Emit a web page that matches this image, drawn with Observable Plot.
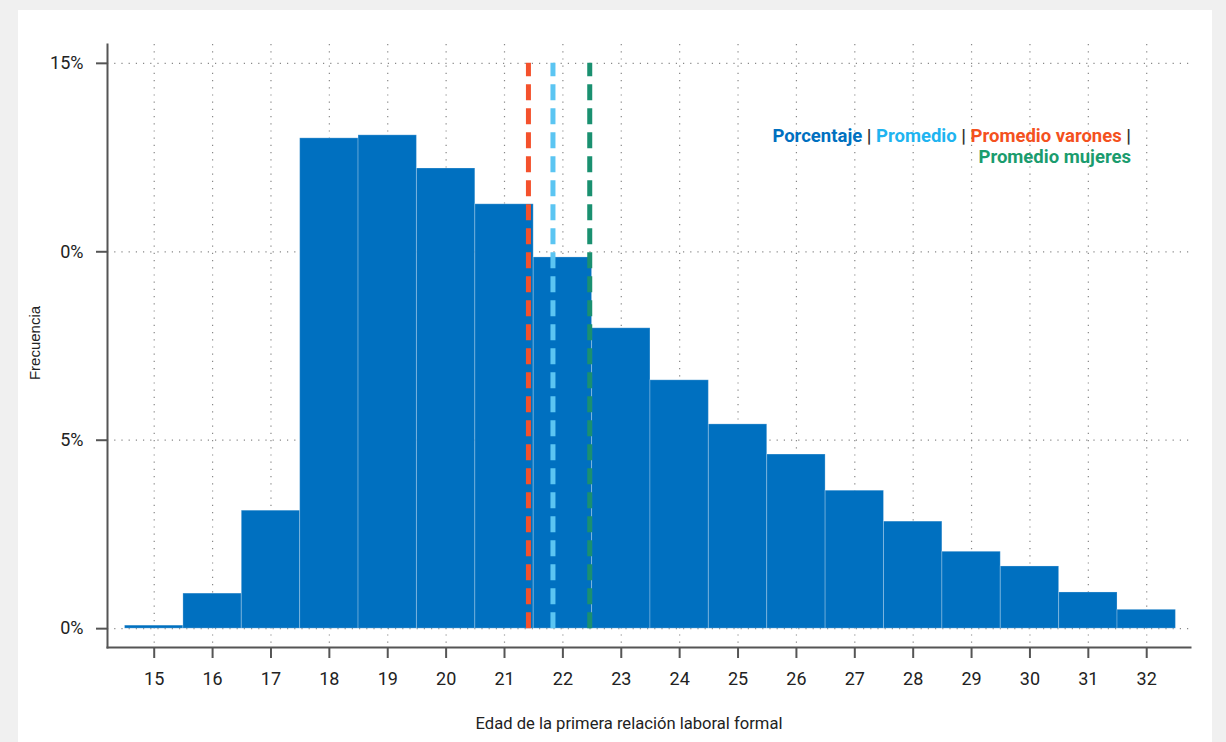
<!DOCTYPE html>
<html>
<head>
<meta charset="utf-8">
<script src="https://cdn.jsdelivr.net/npm/d3@7"></script>
<script src="https://cdn.jsdelivr.net/npm/@observablehq/plot@0.6"></script>
<style>
  html, body { margin: 0; padding: 0; background: #f0f0f0; width: 1226px; height: 742px; overflow: hidden; font-family: Roboto, sans-serif; }
  #panel { position: absolute; left: 18px; top: 10px; width: 1194px; height: 740px; background: #fff; }
  #legend { position: absolute; left: 500px; width: 631px; top: 126px; text-align: right; font-family: Roboto, sans-serif; font-weight: bold; font-size: 18.5px; line-height: 21px; color: #333; }
  g[aria-label="x-axis tick label"] text, g[aria-label="y-axis tick label"] text { font-size: 18px; }
</style>
</head>
<body>
<div id="panel"></div>
<div id="legend">
  <span style="color:#0070c0">Porcentaje</span> | <span style="color:#1fb4f0">Promedio</span> | <span style="color:#f4511e">Promedio varones</span> |<br>
  <span style="color:#1a9c6e">Promedio mujeres</span>
</div>
<script>
const ages = [15,16,17,18,19,20,21,22,23,24,25,26,27,28,29,30,31,32];
const pct = [0.08,0.93,3.13,13.01,13.09,12.21,11.26,9.85,7.97,6.59,5.42,4.62,3.66,2.84,2.04,1.65,0.96,0.50];
const yTicks = [0,5,10,15];
const yTickLabels = ["0%","5%","0%","15%"];
const meanNames = ["Promedio varones","Promedio","Promedio mujeres"];
const meanValues = [21.41,21.83,22.46];
const meanColors = ["#f4512c","#5bc5f2","#1a9070"];
const xTitle = "Edad de la primera relación laboral formal";
const yTitle = "Frecuencia";

const bars = ages.map((a,i)=>({age:a, pct:pct[i]}));
const means = meanNames.map((n,i)=>({name:n, value:meanValues[i], color:meanColors[i]}));

const chart = Plot.plot({
  width: 1194,
  height: 730,
  marginLeft: 89,
  marginRight: 22,
  marginTop: 34,
  marginBottom: 93,
  style: {fontFamily: "Roboto, sans-serif", fontSize: "18px", color: "#222", background: "transparent"},
  x: {domain: [14.2, 32.75]},
  y: {domain: [-0.5, 15.5]},
  marks: [
    Plot.gridX(ages, {stroke: "#888", strokeOpacity: 1, strokeDasharray: "1.2,6", strokeWidth: 1.2}),
    Plot.gridY(yTicks, {stroke: "#888", strokeOpacity: 1, strokeDasharray: "1.2,6", strokeWidth: 1.2}),
    Plot.rectY(bars, {x1: d=>d.age-0.5, x2: d=>d.age+0.5, y1: 0, y2: "pct", fill: "#0070c0", stroke: "#ffffff", strokeOpacity: 0.25, strokeWidth: 1}),
    Plot.ruleX(means, {x: "value", y1: 0, y2: 15, stroke: "color", strokeWidth: 5, strokeDasharray: "16,8"}),
    Plot.axisX(ages, {tickSize: 11, tickPadding: 14, stroke: "#555", strokeWidth: 2, fontSize: 18, label: null}),
    Plot.axisY(yTicks, {tickSize: 11, tickPadding: 13, stroke: "#555", strokeWidth: 2, fontSize: 18, tickFormat: (d)=>yTickLabels[yTicks.indexOf(d)], label: null}),
    Plot.frame({anchor: "bottom", stroke: "#555", strokeWidth: 2}),
    Plot.frame({anchor: "left", stroke: "#555", strokeWidth: 2}),
    Plot.text([xTitle], {text: d=>d, frameAnchor: "bottom", dx: -20, dy: 76, lineAnchor: "middle", textAnchor: "middle", fontSize: 16.6, fill: "#222"}),
    Plot.text([yTitle], {text: d=>d, frameAnchor: "left", dx: -72, dy: -3, rotate: -90, lineAnchor: "middle", textAnchor: "middle", fontSize: 15, fontFamily: "Liberation Sans, Arial, sans-serif", fill: "#222"})
  ]
});
chart.style.position = "absolute";
chart.style.left = "0px";
chart.style.top = "0px";
document.getElementById("panel").appendChild(chart);
</script>
</body>
</html>
